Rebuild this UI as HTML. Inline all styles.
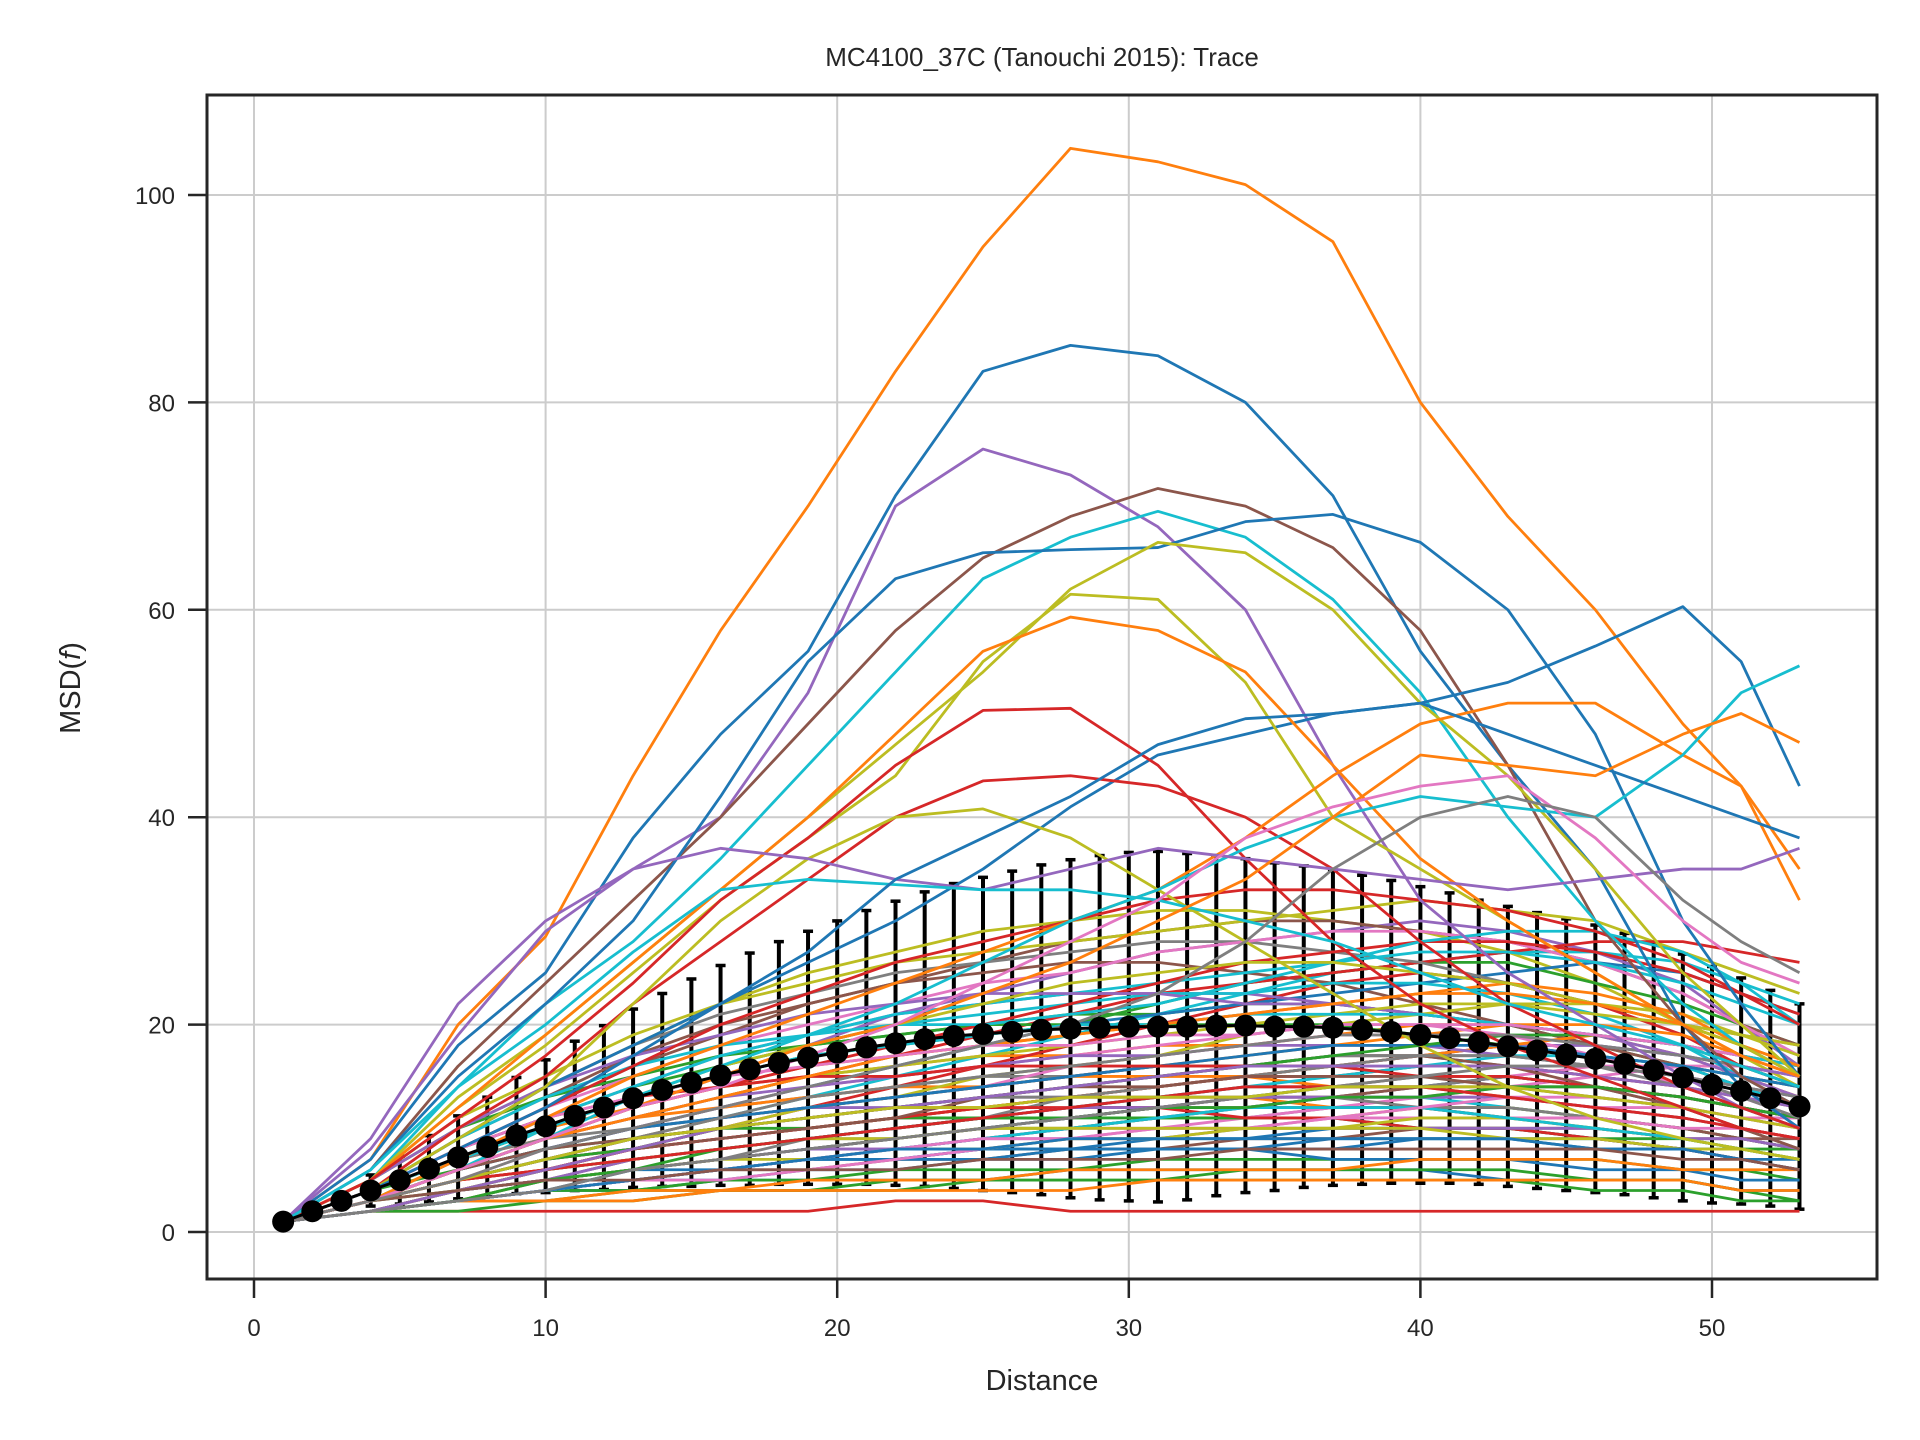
<!DOCTYPE html>
<html><head><meta charset="utf-8"><style>
html,body{margin:0;padding:0;background:#fff;}
svg{display:block;font-family:"Liberation Sans","DejaVu Sans",sans-serif;}
</style></head><body>
<svg id="chart" width="1920" height="1440" viewBox="0 0 1920 1440" xmlns="http://www.w3.org/2000/svg">
<rect x="0" y="0" width="1920" height="1440" fill="#fff"/>
<g id="grid"></g>
<g id="plot"></g>
<g id="axes"></g>
<text x="1042" y="66" font-size="26" text-anchor="middle" fill="#262626">MC4100_37C (Tanouchi 2015): Trace</text>
<text x="1042" y="1390" font-size="29" text-anchor="middle" fill="#262626">Distance</text>
<text x="0" y="0" font-size="29" text-anchor="middle" fill="#262626" transform="translate(80,688) rotate(-90)">MSD(<tspan font-style="italic">f</tspan>)</text>
</svg>
<script>
const xTicks = [0,10,20,30,40,50];
const yTicks = [0,20,40,60,80,100];
const knotX = [1,4,7,10,13,16,19,22,25,28,31,34,37,40,43,46,49,51,53];
const meanVals = [1,2,3,4,5,6.1,7.2,8.2,9.3,10.2,11.2,12,12.9,13.7,14.4,15.1,15.7,16.3,16.8,17.3,17.8,18.2,18.6,18.9,19.1,19.3,19.5,19.6,19.7,19.8,19.8,19.8,19.9,19.9,19.8,19.8,19.7,19.5,19.3,19.0,18.7,18.3,17.9,17.5,17.1,16.7,16.2,15.6,14.9,14.2,13.6,12.9,12.1];
const sdVals = [0,0.3,0.8,1.5,2.3,3.2,4,4.8,5.6,6.4,7.2,7.9,8.6,9.3,10,10.6,11.2,11.7,12.2,12.7,13.2,13.7,14.2,14.7,15.1,15.5,15.9,16.3,16.6,16.8,16.9,16.7,16.4,16.1,15.8,15.5,15.2,14.9,14.6,14.3,14,13.7,13.5,13.3,13.1,12.9,12.6,12.3,11.9,11.4,10.9,10.4,9.9];
const bgTraces = [
[1,2,3,4,5,6,7,7,8,8,8,8,9,9,9,8,8,7,7],
[1,3,5,7,9,10,11,12,12,13,13,13,12,12,11,10,9,8,7],
[1,4,8,11,14,16,18,19,20,21,21,22,22,21,20,18,16,14,12],
[1,2,2,2,2,2,2,3,3,2,2,2,2,2,2,2,2,2,2],
[1,3,6,9,12,15,18,21,23,25,27,28,29,30,29,27,24,20,16],
[1,4,9,13,17,20,22,24,25,26,26,25,24,22,20,18,16,14,13],
[1,2,4,5,6,7,8,8,9,10,11,12,13,14,15,16,16,15,14],
[1,3,5,6,7,8,9,9,10,10,11,11,12,12,12,11,10,9,8],
[1,5,10,14,18,22,25,27,29,30,31,31,30,29,27,24,20,17,14],
[1,3,5,7,9,11,13,15,17,19,21,23,25,26,27,27,26,24,22],
[1,2,3,4,4,5,5,5,5,6,6,6,6,6,5,5,5,4,4],
[1,4,7,10,12,14,15,16,17,17,18,18,19,20,20,19,17,15,13],
[1,3,7,10,13,15,17,18,19,20,22,24,25,26,26,24,22,20,18],
[1,2,4,6,8,10,12,14,16,18,20,22,24,25,24,22,19,16,14],
[1,3,5,7,8,9,10,11,12,13,14,15,16,17,18,18,17,16,15],
[1,4,8,12,16,19,22,24,26,28,29,30,30,29,28,26,23,20,18],
[1,2,3,4,5,6,7,8,9,10,10,11,12,13,14,15,16,16,15],
[1,3,6,8,10,12,13,14,15,15,16,16,17,17,16,15,14,12,11],
[1,5,11,15,19,22,24,26,27,28,29,30,31,32,31,30,27,25,23],
[1,2,4,5,6,7,8,9,10,11,12,12,13,13,12,11,10,9,8],
[1,3,6,8,10,12,14,16,18,20,21,22,23,24,25,26,25,23,21],
[1,4,7,9,11,12,13,14,14,15,15,15,14,14,13,12,11,10,9],
[1,2,3,3,4,4,4,5,5,5,5,6,6,6,6,5,5,4,3],
[1,3,6,9,11,13,15,17,19,21,23,24,25,26,27,28,28,27,26],
[1,4,8,11,14,17,19,21,22,23,23,23,22,21,20,19,18,17,16],
[1,2,4,6,7,8,9,10,11,12,13,14,14,15,15,14,13,12,11],
[1,3,5,7,9,10,12,13,14,16,17,18,19,19,18,17,15,13,11],
[1,4,9,14,18,21,23,25,26,27,28,28,27,26,24,22,20,19,18],
[1,2,3,5,6,7,8,9,10,10,11,11,11,12,12,11,10,9,8],
[1,3,6,10,13,16,18,20,21,22,23,23,24,24,23,21,18,15,12],
[1,2,3,4,5,5,6,6,7,7,8,8,8,9,9,9,8,8,7],
[1,3,5,7,9,11,12,13,14,15,16,17,18,19,20,20,19,17,15],
[1,5,10,13,15,17,18,19,20,20,20,20,20,19,18,17,16,15,14],
[1,2,4,6,8,9,10,11,12,13,14,15,15,16,16,15,14,13,12],
[1,3,6,8,10,11,12,12,13,13,14,15,16,17,18,18,17,15,13],
[1,2,3,4,5,6,6,7,7,8,8,9,9,10,10,10,9,9,8],
[1,4,8,12,15,18,20,22,24,25,27,28,29,29,28,26,23,20,17],
[1,3,5,7,9,10,11,12,13,13,13,13,13,12,12,11,10,9,8],
[1,2,4,6,8,10,12,13,15,16,17,19,20,21,22,22,21,19,17],
[1,3,7,11,14,17,19,21,22,23,24,25,26,27,27,26,24,22,20],
[1,2,3,4,6,7,8,9,10,11,12,13,14,14,15,14,13,12,10],
[1,4,7,10,12,14,16,17,18,19,20,21,22,23,24,23,21,18,15],
[1,2,3,4,4,5,5,6,6,6,7,7,7,7,7,7,6,6,5],
[1,3,6,9,12,14,16,18,20,22,24,26,27,28,28,27,25,23,21],
[1,5,10,14,17,19,21,22,23,23,23,22,22,21,20,19,17,16,15],
[1,2,4,5,7,8,9,10,11,11,12,12,12,12,11,11,10,9,9],
[1,3,5,8,10,12,14,15,16,17,18,19,20,20,19,17,14,12,10],
[1,2,3,4,5,6,7,8,9,10,11,12,13,14,15,14,12,10,8],
[1,3,6,9,11,13,15,16,17,18,19,20,21,22,22,21,20,19,18],
[1,4,9,13,16,18,19,20,20,21,22,24,26,28,29,29,27,24,20],
[1,2,3,4,5,6,7,7,8,8,9,9,10,10,10,9,8,7,6],
[1,3,5,6,8,9,10,11,12,13,14,15,16,17,18,19,18,17,16],
[1,2,2,3,3,4,4,4,5,5,5,5,5,5,5,4,4,3,3],
[1,4,8,12,16,20,23,26,28,30,32,33,33,32,31,29,26,23,20],
[1,3,6,9,11,13,14,15,16,17,17,18,18,18,17,16,15,14,13],
[1,2,4,5,6,7,8,9,10,11,12,13,13,14,14,13,12,11,10],
[1,3,5,7,8,9,10,11,11,12,12,12,13,13,13,12,12,11,11],
[1,2,3,5,6,7,9,10,11,13,14,15,16,17,17,16,14,12,10],
[1,3,7,10,13,16,18,20,22,24,25,26,26,25,24,22,20,18,16],
[1,2,4,6,7,8,9,10,11,12,13,14,15,16,17,17,16,14,12],
[1,3,4,5,6,6,7,7,7,8,8,8,7,7,7,6,6,5,5],
[1,2,3,3,4,4,5,5,5,6,6,6,6,7,7,7,6,6,6],
[1,4,6,8,9,10,10,11,11,11,11,11,11,10,10,9,9,8,8],
[1,3,5,6,8,9,10,11,12,12,12,11,11,10,10,9,8,7,6],
[1,2,4,5,6,7,8,8,9,9,9,10,10,10,10,10,9,9,8],
[1,3,5,7,8,9,10,11,13,14,15,16,17,17,16,14,12,10,8],
[1,2,3,4,5,5,6,7,8,9,10,10,11,11,11,11,10,10,9],
[1,4,7,9,10,11,12,13,14,15,16,16,17,17,17,16,15,14,13],
[1,3,4,5,6,7,7,8,8,9,9,10,10,11,11,10,9,8,7],
[1,2,3,4,5,6,7,8,9,10,11,12,12,12,11,10,9,8,7],
[1,3,6,8,10,11,12,13,14,15,16,17,18,18,18,17,16,15,14],
[1,2,3,3,3,4,4,4,4,4,5,5,5,5,5,5,5,4,4],
[1,3,5,7,8,10,11,12,13,14,15,16,17,18,19,19,18,16,14],
[1,4,8,11,13,14,15,15,16,16,16,16,16,15,15,14,13,12,11],
[1,2,4,5,7,8,9,10,11,12,12,13,13,13,13,12,11,10,9],
[1,3,6,8,9,10,11,12,13,14,14,15,15,15,14,14,13,12,11],
[1,2,3,4,5,6,7,8,9,9,10,10,11,12,13,13,12,11,10],
[1,3,5,7,9,11,13,14,15,16,17,18,19,19,19,18,17,16,14],
[1,2,4,6,7,8,9,9,10,10,10,10,10,10,9,9,8,8,7],
[1,4,7,10,13,15,17,18,19,20,20,21,21,21,20,19,18,17,16],
[1,2,3,4,5,6,7,8,8,9,9,9,9,9,9,8,8,7,6],
[1,3,6,9,11,13,15,17,18,19,20,21,22,23,23,22,20,18,16],
[1,2,3,5,6,8,9,10,11,11,12,12,13,13,14,14,13,12,11],
[1,3,5,6,7,8,9,10,11,12,13,14,14,14,13,12,11,10,9],
[1,2,4,6,8,10,11,12,13,14,15,16,16,16,16,15,14,13,12],
[1,3,4,5,5,6,6,6,7,7,7,8,8,8,8,8,7,7,6],
[1,4,8,11,13,15,16,17,18,18,19,19,20,20,20,19,18,17,15],
[1,2,3,4,6,7,8,9,10,11,12,13,14,15,16,16,15,13,11],
[1,3,5,7,9,10,11,12,12,13,13,13,14,14,14,13,12,11,10]
];
const fgTraces = [
[1,7,20,28.5,44,58,70,83,95,104.5,103.2,101,95.5,80,69,60,49,43,35],
[1,7,18,25,38,48,56,71,83,85.5,84.5,80,71,56,45,35,20,14,10],
[1,8,19,29,35,40,52,70,75.5,73,68,60,45,32,25,20,15,12,10],
[1,6,16,24,32,40,49,58,65,69,71.7,70,66,58,45,30,20,15,12],
[1,5,14,22,28,36,45,54,63,67,69.5,67,61,52,40,30,22,18,15],
[1,6,15,22,30,42,55,63,65.5,65.8,66,68.5,69.2,66.5,60,48,30,22,15],
[1,4,9,14,18,22,26,30,35,41,46,48,50,51,53,56.5,60.3,55,43],
[1,5,13,19,26,33,40,47,54,62,66.5,65.5,60,51,44,35,25,20,15],
[1,5,12,18,25,32,38,44,55,61.5,61,53,40,35,30,25,20,18,15],
[1,5,12,19,26,33,40,48,56,59.3,58,54,45,36,30,25,20,17,15],
[1,5,11,17,24,32,38,45,50.3,50.5,45,36,28,22,18,15,12,10,9],
[1,4,10,15,22,28,34,40,43.5,44,43,40,35,28,22,18,14,12,10],
[1,4,9,14,22,30,36,40,40.8,38,33,28,23,18,14,11,9,8,7],
[1,3,7,11,15,18,21,24,27,30,33,38,44,49,51,51,46,43,32],
[1,3,6,9,13,16,19,22,26,30,33,37,40,42,41,40,46,52,54.6],
[1,9,22,30,35,37,36,34,33,35,37,36,35,34,33,34,35,35,37],
[1,6,14,20,27,33,34,33.5,33,33,32,30,28,25,22,20,18,16,14],
[1,4,8,12,17,22,27,34,38,42,47,49.5,50,51,48,45,42,40,38],
[1,3,6,9,12,15,18,20,23,26,30,34,40,46,45,44,48,50,47.2],
[1,3,6,9,12,14,17,20,24,28,32,38,41,43,44,38,30,26,24],
[1,3,5,8,10,12,14,16,18,20,23,28,35,40,42,40,32,28,25]
];
const palette = ['#1f77b4','#ff7f0e','#2ca02c','#d62728','#9467bd','#8c564b','#e377c2','#7f7f7f','#bcbd22','#17becf'];
const fgColors = ['#ff7f0e','#1f77b4','#9467bd','#8c564b','#17becf','#1f77b4','#1f77b4','#bcbd22','#bcbd22','#ff7f0e','#d62728','#d62728','#bcbd22','#ff7f0e','#17becf','#9467bd','#17becf','#1f77b4','#ff7f0e','#e377c2','#7f7f7f'];

const NS='http://www.w3.org/2000/svg';
const L=207,R=1877,T=95,B=1279;
const xs=v=>254+v*29.16;
const ys=v=>1232-v*10.37;
function mk(tag,parent){const e=document.createElementNS(NS,tag);parent.appendChild(e);return e;}
const grid=document.getElementById('grid'),plot=document.getElementById('plot'),axes=document.getElementById('axes');

xTicks.forEach(t=>{
  const g=mk('line',grid);
  
  
  g.setAttribute('x1',xs(t));g.setAttribute('x2',xs(t));g.setAttribute('y1',T);g.setAttribute('y2',B);
  g.setAttribute('stroke','#cccccc');g.setAttribute('stroke-width','2');
  const tk=mk('line',axes);
  
  
  tk.setAttribute('x1',xs(t));tk.setAttribute('x2',xs(t));tk.setAttribute('y1',B);tk.setAttribute('y2',B+19);
  tk.setAttribute('stroke','#262626');tk.setAttribute('stroke-width','2.5');
  const lb=mk('text',axes);
  
  
  lb.setAttribute('x',xs(t));lb.setAttribute('y',B+57);lb.setAttribute('font-size','24');
  lb.setAttribute('text-anchor','middle');lb.setAttribute('fill','#262626');lb.textContent=t;
});
yTicks.forEach(t=>{
  const g=mk('line',grid);
  
  
  g.setAttribute('x1',L);g.setAttribute('x2',R);g.setAttribute('y1',ys(t));g.setAttribute('y2',ys(t));
  g.setAttribute('stroke','#cccccc');g.setAttribute('stroke-width','2');
  const tk=mk('line',axes);
  
  
  tk.setAttribute('x1',L-19);tk.setAttribute('x2',L);tk.setAttribute('y1',ys(t));tk.setAttribute('y2',ys(t));
  tk.setAttribute('stroke','#262626');tk.setAttribute('stroke-width','2.5');
  const lb=mk('text',axes);
  
  
  lb.setAttribute('x',L-32);lb.setAttribute('y',ys(t)+9);lb.setAttribute('font-size','24');
  lb.setAttribute('text-anchor','end');lb.setAttribute('fill','#262626');lb.textContent=t;
});

meanVals.forEach((m,i)=>{
  const x=xs(i+1),s=sdVals[i];
  const e=mk('line',plot);
  
  
  e.setAttribute('x1',x);e.setAttribute('x2',x);e.setAttribute('y1',ys(m-s));e.setAttribute('y2',ys(m+s));
  e.setAttribute('stroke','#000');e.setAttribute('stroke-width','4');
  [m-s,m+s].forEach(v=>{
    const c=mk('line',plot);
    
    
    c.setAttribute('x1',x-5);c.setAttribute('x2',x+5);c.setAttribute('y1',ys(v));c.setAttribute('y2',ys(v));
    c.setAttribute('stroke','#000');c.setAttribute('stroke-width','3.5');
  });
});

function drawTrace(vals,color){
  const p=mk('polyline',plot);
  
  
  p.setAttribute('points',vals.map((v,i)=>xs(knotX[i])+','+ys(v)).join(' '));
  p.setAttribute('fill','none');p.setAttribute('stroke',color);p.setAttribute('stroke-width','2.8');
  p.setAttribute('stroke-linejoin','round');
}
bgTraces.forEach((tr,i)=>drawTrace(tr,palette[i%10]));
fgTraces.forEach((tr,i)=>drawTrace(tr,fgColors[i]));

const ml=mk('polyline',plot);


ml.setAttribute('points',meanVals.map((m,i)=>xs(i+1)+','+ys(m)).join(' '));
ml.setAttribute('fill','none');ml.setAttribute('stroke','#000');ml.setAttribute('stroke-width','3');
meanVals.forEach((m,i)=>{
  const c=mk('circle',plot);
  
  
  c.setAttribute('cx',xs(i+1));c.setAttribute('cy',ys(m));c.setAttribute('r','11');c.setAttribute('fill','#000');
});
const fr=mk('rect',axes);


fr.setAttribute('x',L);fr.setAttribute('y',T);fr.setAttribute('width',R-L);fr.setAttribute('height',B-T);
fr.setAttribute('fill','none');fr.setAttribute('stroke','#262626');fr.setAttribute('stroke-width','3');
</script>
</body></html>
